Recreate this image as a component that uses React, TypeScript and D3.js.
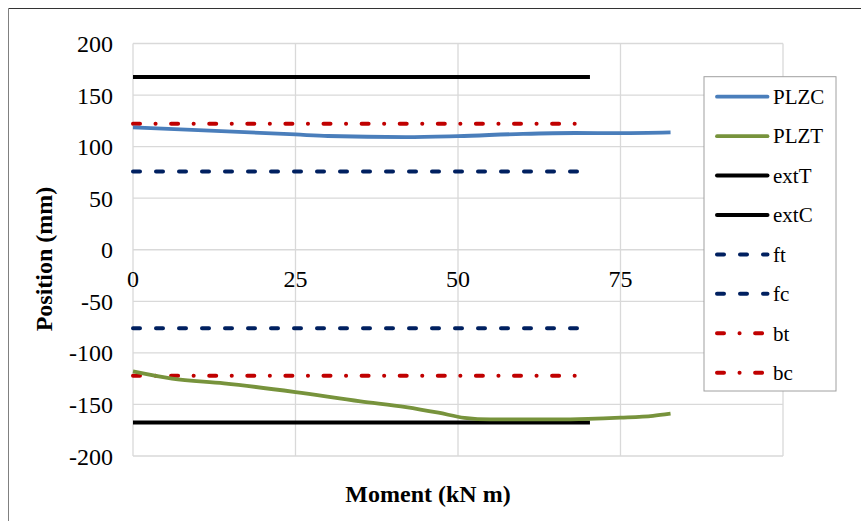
import React from "react";
import * as d3 from "d3";

const plzcX = [0, 10, 25, 30, 42, 50, 60, 68, 75, 82.7];
const plzcY = [118.6, 116, 111.8, 110.3, 109.2, 110.2, 112.4, 113.2, 113.1, 113.8];
const plztX = [0, 6, 14, 25, 35, 42, 47, 51, 55, 65, 70, 75, 80, 82.7];
const plztY = [-118, -125, -129.5, -138, -147, -152.5, -158, -163, -164.5, -164.5, -164, -162.8, -161, -159];
const refX = [0, 70.3];
const extTVal = 167.5;
const extCVal = -167.5;
const ftVal = 76;
const fcVal = -76;
const btVal = 122.3;
const bcVal = -122.3;
const xGrid = [0, 25, 50, 75, 100];
const xTickLabels = [0, 25, 50, 75];
const yTicks = [-200, -150, -100, -50, 0, 50, 100, 150, 200];
const legendNames = ["PLZC", "PLZT", "extT", "extC", "ft", "fc", "bt", "bc"];

const BLUE = "#4A7EBB";
const GREEN = "#77933C";
const NAVY = "#002060";
const RED = "#C00000";
const DASH = "7,16";
const DASHDOT = "7,15.5,0.1,15.5";

const styles: Record<string, { color: string; dash?: string; w: number }> = {
  PLZC: { color: BLUE, w: 3.8 },
  PLZT: { color: GREEN, w: 3.8 },
  extT: { color: "#000", w: 4 },
  extC: { color: "#000", w: 4 },
  ft: { color: NAVY, dash: DASH, w: 4 },
  fc: { color: NAVY, dash: DASH, w: 4 },
  bt: { color: RED, dash: DASHDOT, w: 4 },
  bc: { color: RED, dash: DASHDOT, w: 4 },
};

export default function App() {
  const x = d3.scaleLinear().domain([0, 100]).range([133, 783]);
  const y = d3.scaleLinear().domain([-200, 200]).range([456, 43.5]);
  const line = d3
    .line<[number, number]>()
    .x((d) => x(d[0]))
    .y((d) => y(d[1]))
    .curve(d3.curveMonotoneX);
  const straight = d3
    .line<[number, number]>()
    .x((d) => x(d[0]))
    .y((d) => y(d[1]));

  const series: { name: string; d: string }[] = [
    { name: "extT", d: straight(refX.map((v) => [v, extTVal]))! },
    { name: "extC", d: straight(refX.map((v) => [v, extCVal]))! },
    { name: "ft", d: straight(refX.map((v) => [v, ftVal]))! },
    { name: "fc", d: straight(refX.map((v) => [v, fcVal]))! },
    { name: "bt", d: straight(refX.map((v) => [v, btVal]))! },
    { name: "bc", d: straight(refX.map((v) => [v, bcVal]))! },
    { name: "PLZC", d: line(plzcX.map((v, i) => [v, plzcY[i]]))! },
    { name: "PLZT", d: line(plztX.map((v, i) => [v, plztY[i]]))! },
  ];

  const font = "'Liberation Serif', 'Times New Roman', serif";
  const legX = 704;
  const legY = 76.7;
  const legW = 132;
  const legH = 314.3;
  const rowStep = 39.43;
  const row0 = 96.7;

  return (
    <svg
      width={861}
      height={521}
      style={{ position: "absolute", left: 0, top: 0, background: "#fff" }}
      fontFamily={font}
    >
      <rect x={0} y={0} width={861} height={521} fill="#fff" />
      <line x1={8.5} y1={8.5} x2={861} y2={8.5} stroke="#333" strokeWidth={1} />
      <line x1={8.5} y1={8.5} x2={8.5} y2={521} stroke="#808080" strokeWidth={1} />
      {/* gridlines */}
      {yTicks.map((t) => (
        <line key={"gy" + t} x1={x(0)} x2={x(100)} y1={y(t)} y2={y(t)} stroke="#D9D9D9" strokeWidth={1.3} />
      ))}
      {xGrid.map((t) => (
        <line key={"gx" + t} x1={x(t)} x2={x(t)} y1={y(-200)} y2={y(200)} stroke="#D9D9D9" strokeWidth={1.3} />
      ))}
      {/* y tick labels */}
      {yTicks.map((t) => (
        <text key={"ty" + t} x={113} y={y(t) + 8.5} textAnchor="end" fontSize={24} fill="#000">
          {t}
        </text>
      ))}
      {/* x tick labels */}
      {xTickLabels.map((t) => (
        <text key={"tx" + t} x={x(t)} y={287} textAnchor="middle" fontSize={24} fill="#000">
          {t}
        </text>
      ))}
      {/* series */}
      {series.map((s) => (
        <path
          key={s.name}
          d={s.d}
          fill="none"
          stroke={styles[s.name].color}
          strokeWidth={styles[s.name].w}
          strokeDasharray={styles[s.name].dash}
          strokeLinecap={styles[s.name].dash ? "round" : "butt"}
          strokeLinejoin="round"
        />
      ))}
      {/* axis titles */}
      <text x={428} y={501.5} textAnchor="middle" fontSize={24} fontWeight="bold" fill="#000">
        Moment (kN m)
      </text>
      <text
        transform="translate(51.5,259) rotate(-90)"
        textAnchor="middle"
        fontSize={24}
        fontWeight="bold"
        fill="#000"
      >
        Position (mm)
      </text>
      {/* legend */}
      <rect x={legX} y={legY} width={legW} height={legH} fill="#fff" stroke="#A0A0A0" strokeWidth={1} />
      {legendNames.map((n, i) => {
        const ly = row0 + i * rowStep;
        const st = styles[n];
        return (
          <g key={"lg" + n}>
            <line
              x1={717}
              x2={767.5}
              y1={ly}
              y2={ly}
              stroke={st.color}
              strokeWidth={st.w}
              strokeDasharray={st.dash}
              strokeLinecap="round"
            />
            <text x={773} y={ly + 7.3} fontSize={21} fill="#000">
              {n}
            </text>
          </g>
        );
      })}
    </svg>
  );
}
